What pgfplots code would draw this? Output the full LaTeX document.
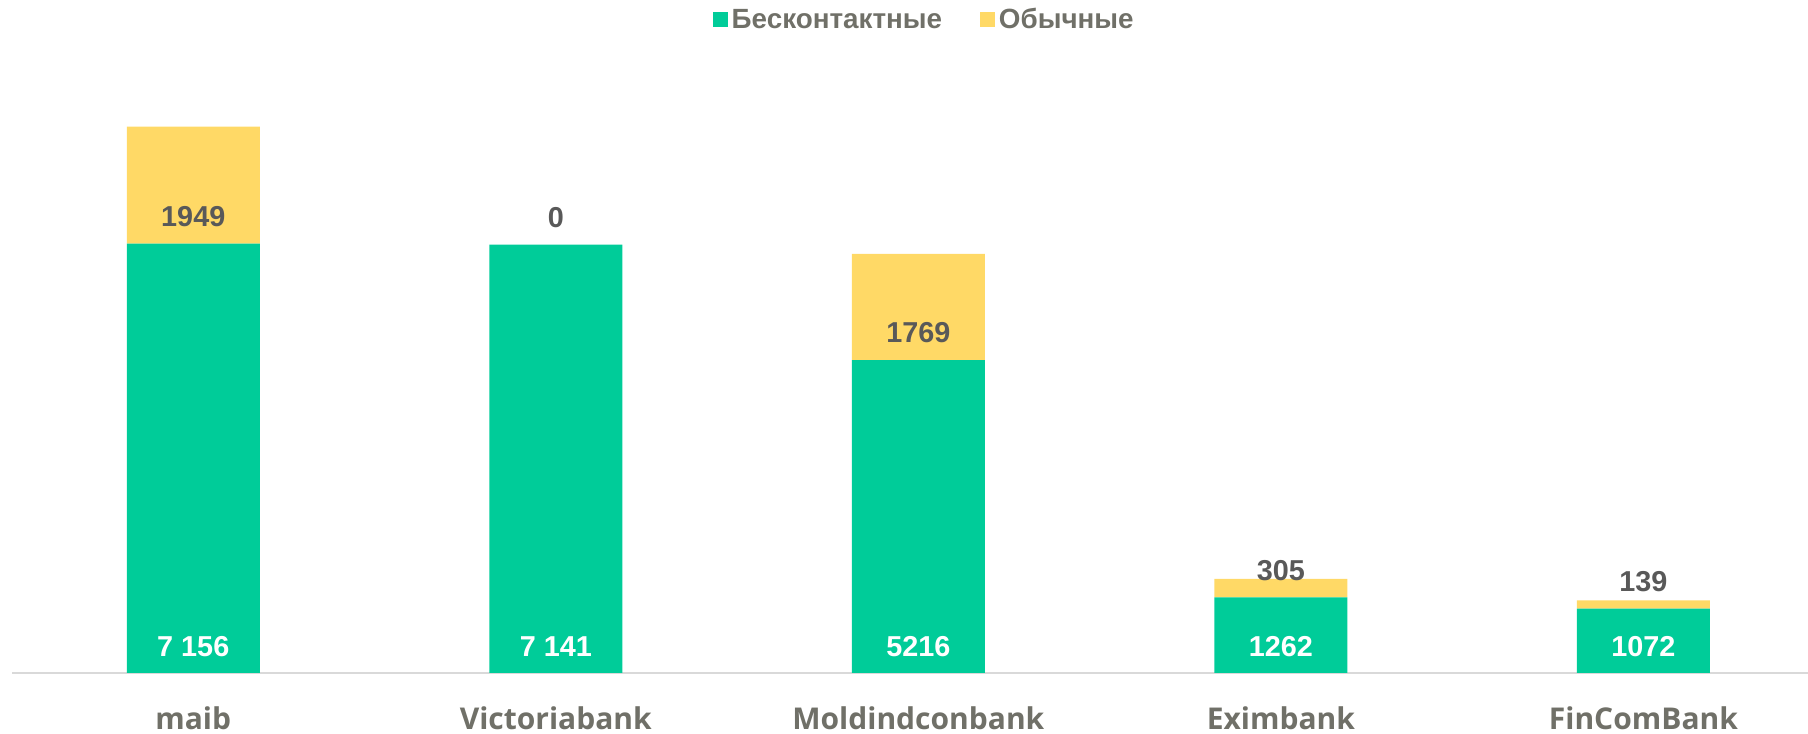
\documentclass[border=0pt]{standalone}
\usepackage{pgfplots}
\pgfplotsset{compat=1.18}
\usepackage{fontspec}
\setmainfont{Liberation Sans}
\newfontfamily\catfont{Open Sans}
\definecolor{cgreen}{RGB}{0,204,153}
\definecolor{cyellow}{RGB}{255,217,102}
\definecolor{labgray}{RGB}{89,89,89}
\definecolor{catgray}{RGB}{112,112,104}
\definecolor{axisgray}{RGB}{217,217,217}
\begin{document}
\begin{tikzpicture}
\path[use as bounding box] (0,0) rectangle (904pt,366.5pt);
\begin{axis}[
  at={(6pt,30pt)}, anchor=south west,
  scale only axis, width=898pt, height=300pt,
  xmin=-0.5, xmax=4.454, ymin=0, ymax=10000,
  ybar stacked, bar width=66.5pt,
  axis x line*=bottom, axis y line=none,
  x axis line style={draw=axisgray, line width=1pt, -},
  xtick={0,1,2,3,4},
  xticklabels={maib,Victoriabank,Moldindconbank,Eximbank,FinComBank},
  major tick length=0pt, ytick=\empty,
  xticklabel style={anchor=base, yshift=-28.15pt, font=\catfont\bfseries\fontsize{15}{18}\selectfont, text=catgray},
  legend columns=2,
  legend style={at={(0.5085,1.088)}, anchor=center, draw=none, fill=none,
    font=\bfseries\fontsize{13.9}{16}\selectfont, text=catgray,
    /tikz/every even column/.append style={column sep=17pt}},
  legend image code/.code={\fill[#1] (0pt,-3.2pt) rectangle (7.4pt,4.2pt);},
]
\addplot[fill=cgreen, draw=none] coordinates {(0,7156) (1,7141) (2,5216) (3,1262) (4,1072)};
\addlegendentry{Бесконтактные}
\addplot[fill=cyellow, draw=none] coordinates {(0,1949) (1,0) (2,1769) (3,305) (4,139)};
\addlegendentry{Обычные}
\end{axis}
\begin{axis}[
  at={(6pt,30pt)}, anchor=south west,
  scale only axis, width=898pt, height=300pt,
  xmin=-0.5, xmax=4.454, ymin=0, ymax=10000,
  axis lines=none, xtick=\empty, ytick=\empty,
]
\addplot[draw=none, mark=none, nodes near coords, point meta=explicit symbolic,
  every node near coord/.style={anchor=center, yshift=13pt, text=white, font=\bfseries\fontsize{14.4}{16}\selectfont}]
  coordinates {(0,0) [7 156] (1,0) [7 141] (2,0) [5216] (3,0) [1262] (4,0) [1072]};
\addplot[draw=none, mark=none, nodes near coords, point meta=explicit symbolic,
  every node near coord/.style={anchor=center, yshift=13.5pt, text=labgray, font=\bfseries\fontsize{14.4}{16}\selectfont}]
  coordinates {(0,7156) [1949] (1,7141) [0] (2,5216) [1769] (3,1262) [305] (4,1072) [139]};
\end{axis}
\end{tikzpicture}
\end{document}
